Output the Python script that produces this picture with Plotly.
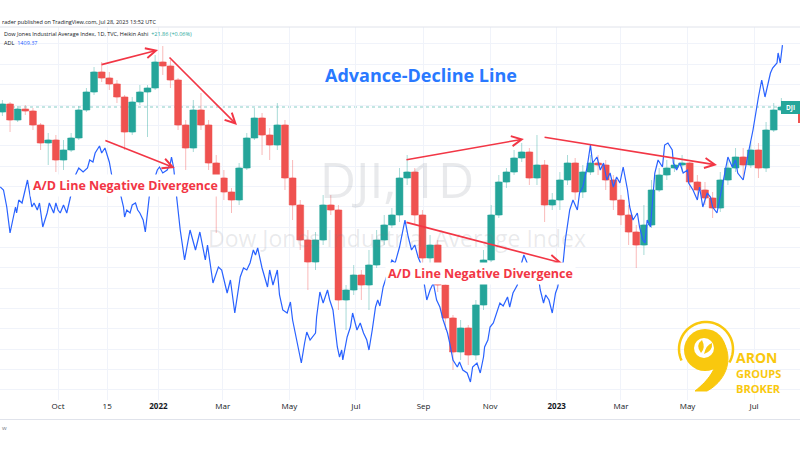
import math
import pandas as pd
import plotly.graph_objects as go

# ---------------- data ----------------
# DJI weekly Heikin Ashi candles, one per week (mid-week date), starting 2021-08-11
week_start = "2021-08-11"
opens = [35200, 35400, 35000, 35275, 35225, 34875, 34425, 34500, 34000, 34250,
         34550, 35250, 35700, 36200, 36050, 35900, 35575, 34700, 35450, 35700,
         35800, 36450, 36350, 36000, 34875, 34300, 35250, 34875, 33925, 33550,
         33200, 33000, 33800, 34550, 35050, 34625, 34375, 34875, 33550, 32875,
         32000, 31450, 32000, 32875, 32750, 30500, 30750, 31125, 30875, 31375,
         32000, 32375, 32625, 33550, 33700, 32625, 31550, 31875, 30875, 30050,
         29200, 29800, 29125, 30375, 31500, 32625, 33450, 33700, 34050, 34200,
         33550, 33875, 32875, 33000, 33500, 33925, 33200, 33700, 33925, 33875,
         33500, 33000, 32625, 32200, 31875, 32375, 33250, 33625, 33800, 33875,
         33925, 33450, 33250, 33050, 32800, 33500, 33800, 34075, 33875, 34250,
         33800, 34750, 35250]
highs = [35500, 35450, 35350, 35375, 35300, 34925, 34675, 34625, 34500, 34675,
         35350, 35800, 36325, 36450, 36200, 36000, 35625, 35575, 35875, 35875,
         36625, 36850, 36500, 36050, 35000, 35500, 35675, 35000, 34125, 33750,
         33300, 33925, 34675, 35300, 35175, 34800, 35425, 35000, 34000, 33000,
         32250, 32200, 33125, 33125, 32875, 30875, 31375, 31250, 31750, 32250,
         32625, 32800, 33800, 34125, 33800, 32750, 32125, 32000, 31000, 30125,
         30000, 29875, 30500, 31750, 32875, 33625, 33800, 34250, 34425, 34300,
         34625, 34000, 33175, 33700, 34125, 34050, 33875, 34125, 34125, 34000,
         33625, 33125, 32875, 32375, 32875, 33500, 33800, 34000, 34050, 34125,
         33950, 33625, 33450, 33200, 33700, 34000, 34300, 34300, 34450, 34425,
         34950, 35425, 35550]
lows = [35100, 34700, 34950, 35125, 34750, 34250, 33875, 33700, 33750, 34200,
        34500, 35200, 35625, 35950, 35750, 35425, 34250, 34625, 35375, 34575,
        35750, 36125, 35800, 34750, 33750, 34200, 34750, 33750, 32175, 33000,
        32675, 32875, 33750, 34500, 34125, 34000, 34250, 33250, 32500, 31750,
        30750, 31250, 31875, 32625, 30250, 29750, 30625, 30500, 30250, 31300,
        31875, 32300, 32450, 33375, 32375, 31375, 31300, 30700, 29750, 28750,
        29000, 28875, 29000, 30250, 31450, 32550, 33300, 33625, 33950, 33375,
        33375, 32450, 32750, 32750, 33375, 33000, 33050, 33625, 33625, 33250,
        32750, 32375, 31875, 31300, 31625, 32300, 33200, 33500, 33700, 33700,
        33250, 33050, 32875, 32550, 32700, 33375, 33700, 33550, 33800, 33550,
        33700, 34700, 35200]
closes = [35400, 35000, 35275, 35225, 34875, 34425, 34500, 34000, 34250, 34550,
          35250, 35700, 36200, 36050, 35900, 35575, 34700, 35450, 35700, 35800,
          36450, 36350, 36000, 34875, 34300, 35250, 34875, 33925, 33550, 33200,
          33000, 33800, 34550, 35050, 34625, 34375, 34875, 33550, 32875, 32000,
          31450, 32000, 32875, 32750, 30500, 30750, 31125, 30875, 31375, 32000,
          32375, 32625, 33550, 33700, 32625, 31550, 31875, 30875, 30050, 29200,
          29800, 29125, 30375, 31500, 32625, 33450, 33700, 34050, 34200, 33550,
          33875, 32875, 33000, 33500, 33925, 33200, 33700, 33925, 33875, 33500,
          33000, 32625, 32200, 31875, 32375, 33250, 33625, 33800, 33875, 33925,
          33450, 33250, 33050, 32800, 33500, 33800, 34075, 33875, 34250, 33800,
          34750, 35250, 35325]

# Advance-Decline line vertices: days since 2021-10-01 and ADL value
adl_base = "2021-10-01"
adl_day = [-53, -50, -47, -44, -39, -38, -36, -33, -28, -26,
           -24, -22, -19, -17, -14, -10, -8, -6, -4, -2,
           0, 2, 5, 8, 10, 13, 16, 19, 23, 27,
           29, 32, 34, 38, 40, 43, 47, 50, 54, 57,
           60, 61, 63, 66, 68, 71, 73, 75, 78, 80,
           82, 84, 88, 91, 93, 96, 100, 103, 104, 106,
           109, 112, 116, 121, 126, 130, 135, 137, 142, 147,
           150, 155, 158, 162, 167, 170, 173, 176, 179, 181,
           183, 187, 192, 194, 197, 201, 203, 206, 210, 213,
           215, 219, 223, 226, 228, 231, 233, 236, 237, 240,
           243, 245, 247, 249, 252, 256, 258, 260, 261, 265,
           268, 270, 274, 277, 280, 283, 285, 288, 291, 293,
           295, 298, 302, 304, 306, 309, 313, 316, 318, 321,
           324, 327, 330, 333, 336, 338, 341, 344, 347, 350,
           353, 357, 359, 362, 366, 368, 371, 375, 378, 380,
           384, 387, 390, 391, 394, 396, 399, 402, 405, 408,
           412, 414, 417, 421, 423, 427, 430, 433, 436, 439,
           442, 445, 447, 450, 453, 456, 458, 461, 463, 465,
           469, 472, 476, 478, 481, 485, 488, 490, 494, 497,
           500, 503, 506, 509, 512, 515, 518, 522, 524, 527,
           531, 533, 536, 538, 540, 543, 547, 550, 554, 556,
           559, 563, 564, 567, 570, 573, 577, 578, 582, 586,
           588, 591, 595, 598, 600, 604, 607, 611, 614, 618,
           621, 623, 628, 632, 637, 642, 645, 648, 653, 655,
           659, 660, 662, 664]
adl_value = [-10, -40, -210, -470, -210, -270, -140, -170, 60, -70,
             -210, -170, -240, -170, -410, -270, -170, -220, -270, -170,
             -240, -270, -190, -270, -170, -40, 110, 180, 140, 180,
             260, 240, 330, 400, 330, 380, 240, 60, -40, -70,
             -210, -310, -240, -270, -190, -170, -240, -270, -340, -460,
             -270, -70, 60, 160, 190, 130, 160, 230, 290, 180,
             -140, -440, -740, -440, -640, -460, -740, -590, -970, -810,
             -840, -1070, -940, -1270, -910, -820, -840, -770, -640, -690,
             -620, -820, -1010, -840, -990, -840, -1090, -1240, -1270, -1160,
             -1340, -1570, -1770, -1570, -1460, -1540, -1510, -1470, -1310, -1060,
             -1170, -1110, -1040, -1140, -1240, -1610, -1710, -1640, -1740, -1510,
             -1410, -1270, -1440, -1370, -1470, -1540, -1640, -1440, -1210, -1140,
             -1200, -1010, -890, -810, -740, -770, -610, -460, -340, -510,
             -640, -590, -710, -790, -1010, -1140, -1040, -970, -1140, -1210,
             -1340, -1470, -1570, -1740, -1810, -1760, -1840, -1870, -1960, -1810,
             -1770, -1870, -1710, -1610, -1540, -1410, -1370, -1270, -1170, -1200,
             -1110, -1210, -1070, -990, -840, -690, -770, -940, -900, -810,
             -1040, -1170, -1090, -1140, -1270, -1070, -1010, -820, -760, -540,
             -240, -140, -240, -70, -10, 190, 410, 230, 290, 160,
             230, 60, 130, -10, 90, 30, 190, -40, -210, -340,
             -270, -410, -540, -570, -340, -410, 130, 260, 190, 410,
             430, 360, 230, 160, 230, 130, 160, 30, -40, -140,
             -10, -210, -70, -110, -210, -270, -110, 130, 290, 190,
             260, 130, 60, 290, 560, 890, 1060, 890, 1130, 1180,
             1230, 1330, 1230, 1409.37]

tick_dates = ["2021-10-01", "2021-11-15", "2022-01-01", "2022-03-01", "2022-05-01",
              "2022-07-01", "2022-09-01", "2022-11-01", "2023-01-01", "2023-03-01",
              "2023-05-01", "2023-07-01"]
tick_text = ["Oct", "15", "<b>2022</b>", "Mar", "May", "Jul", "Sep", "Nov",
             "<b>2023</b>", "Mar", "May", "Jul"]

assert len(adl_day) == len(adl_value), (len(adl_day), len(adl_value))
assert len(opens) == len(highs) == len(lows) == len(closes)

# ---------------- styling ----------------
UP = "#26a69a"
DOWN = "#ef5350"
UP_L = "rgba(38,166,154,0.40)"
DOWN_L = "rgba(239,83,80,0.40)"
RED = "#f23645"
BLUE = "#2962ff"
GOLD = "#f9c80e"
FONT = "Open Sans"
DAY_MS = 86400000

dates = pd.date_range(week_start, periods=len(closes), freq="7D")
adl_dates = pd.Timestamp(adl_base) + pd.to_timedelta(adl_day, unit="D")
body_lo = [min(o, c) for o, c in zip(opens, closes)]
body_len = [abs(c - o) for o, c in zip(opens, closes)]
body_col = [UP if c >= o else DOWN for o, c in zip(opens, closes)]

fig = go.Figure()

# watermark (under the candles)
fig.add_trace(go.Scatter(
    x=["2022-08-07 17:00", "2022-08-07 17:00"], y=[33375, 31975], mode="text",
    text=["DJI, 1D", "Dow Jones Industrial Average Index"],
    textfont=dict(size=[50, 23], color="rgba(120,123,134,0.16)", family=FONT),
    hoverinfo="skip", showlegend=False))

# wicks (light)
fig.add_trace(go.Candlestick(
    x=dates, open=opens, high=highs, low=lows, close=closes,
    increasing=dict(line=dict(color=UP_L, width=1), fillcolor=UP_L),
    decreasing=dict(line=dict(color=DOWN_L, width=1), fillcolor=DOWN_L),
    whiskerwidth=0, hoverinfo="skip", showlegend=False))
# bodies (solid)
fig.add_trace(go.Bar(
    x=dates, y=body_len, base=body_lo, width=6.3 * DAY_MS,
    marker=dict(color=body_col, line=dict(color=body_col, width=0.5)),
    hoverinfo="skip", showlegend=False))

# ADL line
fig.add_trace(go.Scatter(
    x=adl_dates, y=adl_value, mode="lines", yaxis="y2",
    line=dict(color=BLUE, width=1.2), hoverinfo="skip", showlegend=False))


def px(x):
    return x / 800.0


def py(y):
    return (400.0 - y) / 373.0


annotations = []
# divergence arrows: (head x, head y, tail x, tail y, y axis)
arrows = [
    ("2021-12-31 17:00", 36750, "2021-11-08 12:00", 36375, "y"),
    ("2022-03-14", 34875, "2022-01-09 19:00", 36600, "y"),
    ("2022-01-16", 180, "2021-11-12", 460, "y2"),
    ("2022-12-02", 34525, "2022-08-15", 34000, "y"),
    ("2023-05-28", 33875, "2022-12-19 14:00", 34575, "y"),
    ("2023-01-06", -770, "2022-08-15", -360, "y2"),
]
for hx, hy, tx, ty, yr in arrows:
    annotations.append(dict(
        x=hx, y=hy, ax=tx, ay=ty, xref="x", yref=yr, axref="x", ayref=yr,
        text="", showarrow=True, arrowhead=5, arrowsize=1.25, arrowwidth=1.6,
        arrowcolor=RED, standoff=0, startstandoff=0))


def label(x, y, text, size, color, anchor="center", **kw):
    return dict(x=px(x), y=py(y), xref="paper", yref="paper", xanchor=anchor,
                yanchor="middle", text=text, showarrow=False,
                font=dict(size=size, color=color, family=FONT), **kw)


annotations += [
    label(421, 75, "<b>Advance-Decline Line</b>", 18, "#2979ff"),
    label(125, 186, "<b>A/D Line Negative Divergence</b>", 12.5, RED,
          bgcolor="white", borderpad=2),
    label(481, 273, "<b>A/D Line Negative Divergence</b>", 12.5, RED,
          bgcolor="white", borderpad=2),
    # header
    label(0, 21.5, "rader published on TradingView.com, Jul 28, 2023 13:52 UTC",
          5.5, "#131722", anchor="left"),
    label(2, 34.3, "Dow Jones Industrial Average Index, 1D, TVC, Heikin Ashi  "
          "<span style='color:#26a69a'>+21.86 (+0.06%)</span>", 5.5, "#131722", anchor="left"),
    label(2, 42.7, "ADL  <span style='color:#2962ff'>1409.37</span>", 5.5, "#131722",
          anchor="left"),
    label(0, 428, "w", 6, "#787b86", anchor="left"),
    # DJI tag
    label(790.5, 107.5, "<b>DJI</b>", 6.5, "white"),
    # logo text (one stacked block)
    label(734, 372, "<b><span style='font-size:14px'>ARON</span><br>"
          "<span style='font-size:11px'>GROUPS</span><br>"
          "<span style='font-size:11px'>BROKER</span></b>", 11.5, GOLD,
          anchor="left", align="left"),
]


def circle(cx, cy, r, **kw):
    return dict(type="circle", xref="paper", yref="paper",
                x0=px(cx - r), x1=px(cx + r), y0=py(cy + r), y1=py(cy - r), **kw)


def path_from(cmds):
    s = ""
    for c, pts in cmds:
        s += c
        s += " ".join(f"{px(x):.5f},{py(y):.5f}" for x, y in pts)
    return s


ring_pts = []
for i in range(41):
    th = math.radians(205 - i * 235 / 40)
    ring_pts.append((706 + 27 * math.cos(th), 349 - 27 * math.sin(th)))
ring_path = "M" + " L".join(f"{px(x):.5f},{py(y):.5f}" for x, y in ring_pts)

tail = path_from([("M", [(724, 343)]), ("C", [(734, 362), (724, 382), (707, 391)]),
                  ("L", [(695, 391)]), ("C", [(709, 380), (717, 368), (716, 358)]), ("Z", [])])
leaf1 = path_from([("M", [(701, 353)]), ("Q", [(695, 345), (702, 340)]),
                   ("Q", [(706, 348), (701, 353)]), ("Z", [])])
leaf2 = path_from([("M", [(704, 354)]), ("Q", [(706, 345), (712, 343)]),
                   ("Q", [(713, 351), (704, 354)]), ("Z", [])])

shapes = [
    # price line at last close
    dict(type="line", xref="paper", x0=0, x1=1, yref="y", y0=closes[-1], y1=closes[-1],
         line=dict(color="rgba(38,166,154,0.55)", width=1, dash="dot"), layer="below"),
    # header separator and bottom time-axis border
    dict(type="line", xref="paper", yref="paper", x0=0, x1=1, y0=1, y1=1,
         line=dict(color="#e0e3eb", width=1)),
    dict(type="line", xref="paper", yref="paper", x0=0, x1=1, y0=py(419.5), y1=py(419.5),
         line=dict(color="#e0e3eb", width=1)),
    # DJI tag on the right
    dict(type="rect", xref="paper", yref="paper", x0=px(781), x1=1, y0=py(114), y1=py(101),
         fillcolor=UP, line=dict(width=0)),
    dict(type="rect", xref="paper", yref="paper", x0=px(798), x1=1, y0=py(123), y1=py(114),
         fillcolor=DOWN, line=dict(width=0)),
    # logo
    dict(type="path", xref="paper", yref="paper", path=ring_path,
         line=dict(color=GOLD, width=2.5)),
    dict(type="path", xref="paper", yref="paper", path=tail, fillcolor=GOLD,
         line=dict(color=GOLD, width=1)),
    circle(705, 350, 21, fillcolor=GOLD, line=dict(width=0)),
    circle(704, 348, 10, fillcolor="white", line=dict(width=0)),
    dict(type="path", xref="paper", yref="paper", path=leaf1, fillcolor=GOLD,
         line=dict(width=0)),
    dict(type="path", xref="paper", yref="paper", path=leaf2, fillcolor=GOLD,
         line=dict(width=0)),
]

fig.update_layout(
    width=800, height=450,
    margin=dict(l=0, r=0, t=27, b=50),
    paper_bgcolor="white", plot_bgcolor="white",
    font=dict(family=FONT, color="#131722"),
    hovermode=False, showlegend=False,
    barmode="overlay",
    xaxis=dict(type="date", range=["2021-08-08 19:12", "2023-08-12 02:00"],
               tickvals=tick_dates, ticktext=tick_text, tickangle=0,
               tickfont=dict(size=8, color="#131722", family=FONT),
               showgrid=True, gridcolor="#f0f3fa", gridwidth=1,
               zeroline=False, showline=False, ticks="",
               rangeslider=dict(visible=False), fixedrange=True),
    yaxis=dict(range=[28000, 37325], tick0=35375, dtick=508.5,
               showgrid=True, gridcolor="#f0f3fa", gridwidth=1,
               showticklabels=False, zeroline=False, showline=False, ticks="",
               fixedrange=True),
    yaxis2=dict(range=[-2140, 1590], overlaying="y", visible=False, fixedrange=True),
    annotations=annotations,
    shapes=shapes,
)

fig.write_html("out.html")
